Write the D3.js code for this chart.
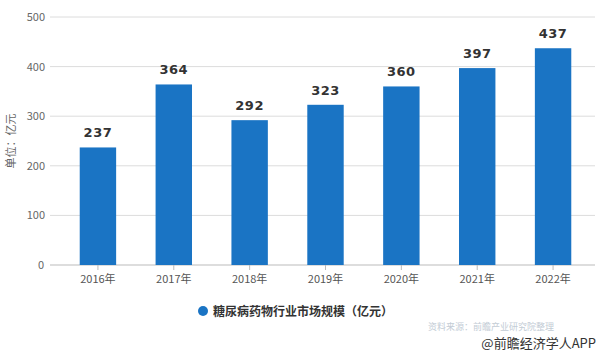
<!DOCTYPE html>
<html><head><meta charset="utf-8">
<script src="https://cdn.jsdelivr.net/npm/d3@7"></script>
<style>body{margin:0;background:#fff}svg{display:block;font-family:"Noto Sans CJK SC","Noto Sans",sans-serif}</style>
</head><body><svg id="c" width="600" height="352"></svg>
<script>
const categories = ["2016年","2017年","2018年","2019年","2020年","2021年","2022年"];
const values = [237,364,292,323,360,397,437];
const yTicks = [0,100,200,300,400,500];
const seriesName = "糖尿病药物行业市场规模（亿元）";
const yTitle = "单位：亿元";

const svg = d3.select("#c");
const x = d3.scaleBand().domain(categories).range([60,591]).paddingInner(0.52).paddingOuter(0.26);
const y = d3.scaleLinear().domain([0,500]).range([265,17]);
const color = "#1a74c4";

svg.append("g").selectAll("line").data(yTicks).join("line")
  .attr("x1",50).attr("x2",595).attr("y1",d=>y(d)).attr("y2",d=>y(d))
  .attr("stroke",d=>d===0?"#bbb":"#dcdcdc").attr("stroke-width",1);
svg.append("g").selectAll("text").data(yTicks).join("text")
  .attr("x",d=>d===0?44:45).attr("y",d=>y(d)+4).attr("text-anchor","end")
  .attr("font-size",11).attr("fill","#666").text(d=>d);
svg.append("text").attr("transform","translate(15,141) rotate(-90)")
  .attr("text-anchor","middle").attr("font-size",11).attr("fill","#666").text(yTitle);
svg.append("g").selectAll("rect").data(values).join("rect")
  .attr("x",(d,i)=>x(categories[i])).attr("width",x.bandwidth())
  .attr("y",d=>y(d)).attr("height",d=>y(0)-y(d)).attr("fill",color);
svg.append("g").selectAll("text").data(values).join("text")
  .attr("x",(d,i)=>x(categories[i])+x.bandwidth()/2).attr("y",d=>y(d)-10)
  .attr("text-anchor","middle").attr("font-size",13).attr("font-weight","bold")
  .attr("letter-spacing","0.5").attr("fill","#333").attr("font-family","DejaVu Sans, sans-serif").text(d=>d);
const xa = svg.append("g");
xa.selectAll("line").data(categories).join("line")
  .attr("x1",d=>x(d)+x.bandwidth()/2).attr("x2",d=>x(d)+x.bandwidth()/2)
  .attr("y1",265).attr("y2",270).attr("stroke","#bbb");
xa.selectAll("text").data(categories).join("text")
  .attr("x",d=>x(d)+x.bandwidth()/2).attr("y",283).attr("text-anchor","middle")
  .attr("font-size",11).attr("fill","#555").text(d=>d);
svg.append("circle").attr("cx",203).attr("cy",311).attr("r",5).attr("fill",color);
svg.append("text").attr("x",213).attr("y",315.5).attr("font-size",12).attr("font-weight","bold")
  .attr("fill","#333").text(seriesName);
svg.append("text").attr("x",428).attr("y",330).attr("font-size",9).attr("fill","#c3ccd5").text("资料来源：前瞻产业研究院整理");
svg.append("text").attr("x",596).attr("y",348).attr("text-anchor","end").attr("font-size",13)
  .attr("fill","#333").text("@前瞻经济学人APP");
</script></body></html>
